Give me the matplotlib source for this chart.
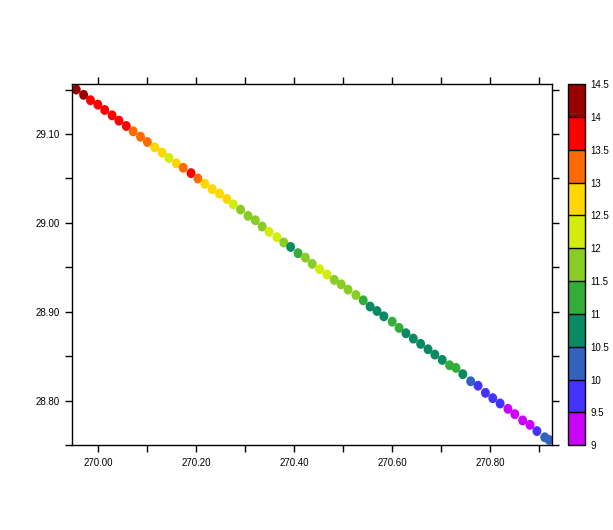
import numpy as np
import matplotlib
matplotlib.use("Agg")
import matplotlib.pyplot as plt
from matplotlib.colors import ListedColormap, BoundaryNorm

plt.rcParams['font.family'] = ['Liberation Sans', 'DejaVu Sans']

# track positions (longitude, latitude)
lon = [269.956, 269.971, 269.985, 270.000, 270.014, 270.029, 270.043, 270.058,
       270.072, 270.087, 270.101, 270.116, 270.131, 270.145, 270.160, 270.174,
       270.190, 270.204, 270.218, 270.233, 270.248, 270.263, 270.276, 270.291,
       270.306, 270.321, 270.335, 270.349, 270.365, 270.379, 270.393, 270.408,
       270.423, 270.437, 270.452, 270.467, 270.482, 270.496, 270.510, 270.526,
       270.541, 270.555, 270.569, 270.583, 270.600, 270.614, 270.628, 270.643,
       270.658, 270.673, 270.687, 270.702, 270.717, 270.730, 270.744, 270.760,
       270.775, 270.790, 270.805, 270.820, 270.836, 270.850, 270.866, 270.881,
       270.895, 270.911, 270.920]
lat = [29.150, 29.144, 29.138, 29.133, 29.127, 29.121, 29.115, 29.109,
       29.103, 29.097, 29.091, 29.085, 29.079, 29.073, 29.067, 29.062,
       29.056, 29.050, 29.044, 29.038, 29.033, 29.027, 29.021, 29.015,
       29.008, 29.003, 28.996, 28.990, 28.984, 28.978, 28.973, 28.966,
       28.961, 28.954, 28.948, 28.942, 28.936, 28.931, 28.925, 28.919,
       28.913, 28.906, 28.901, 28.895, 28.889, 28.882, 28.876, 28.870,
       28.864, 28.858, 28.852, 28.846, 28.840, 28.837, 28.830, 28.822,
       28.817, 28.809, 28.803, 28.797, 28.791, 28.785, 28.778, 28.773,
       28.766, 28.759, 28.756]
# value at each point (only the colour class is readable)
val = [14.2, 14.1, 13.9, 13.8, 13.7, 13.7, 13.6, 13.6,
       13.4, 13.3, 13.2, 12.9, 12.8, 12.4, 12.7, 13.1,
       13.6, 13.2, 12.9, 12.8, 12.7, 12.6, 12.4, 11.9,
       11.8, 11.8, 11.7, 12.2, 12.3, 11.8, 10.9, 11.3,
       11.7, 11.8, 12.2, 12.1, 11.9, 11.7, 11.6, 11.6,
       11.4, 10.9, 10.8, 10.8, 11.2, 11.1, 10.9, 10.8,
       10.7, 10.7, 10.6, 10.7, 11.1, 11.2, 10.8, 10.3,
       9.9, 9.8, 9.7, 9.6, 9.4, 9.3, 9.2, 9.3,
       9.6, 10.1, 10.2]

levels = [9, 9.5, 10, 10.5, 11, 11.5, 12, 12.5, 13, 13.5, 14, 14.5]
level_labels = ['9', '9.5', '10', '10.5', '11', '11.5', '12', '12.5', '13', '13.5', '14', '14.5']
colors = ['#cc00ff', '#4433ff', '#3062be', '#0a8a62', '#34ac3a', '#88cc24',
          '#d4ec0c', '#ffd700', '#ff6a00', '#ff0000', '#990000']

xticks_major = [270.0, 270.2, 270.4, 270.6, 270.8]
xticks_minor = [270.1, 270.3, 270.5, 270.7, 270.9]
yticks_major = [28.8, 28.9, 29.0, 29.1]
yticks_minor = [28.75, 28.85, 28.95, 29.05, 29.15]

cmap = ListedColormap(colors)
norm = BoundaryNorm(levels, cmap.N)

fig = plt.figure(figsize=(6.13, 5.30), dpi=100)
ax = fig.add_axes([0.1180, 0.1598, 0.7830, 0.6817])

# slightly tall dots, as in the original
dot = [(np.cos(t) * 0.9, np.sin(t)) for t in np.linspace(0, 2 * np.pi, 17)]
ax.scatter(lon, lat, c=val, cmap=cmap, norm=norm, s=52, marker=dot, linewidths=0)

ax.set_xlim(269.948, 270.9264)
ax.set_ylim(28.7502, 29.1562)

ax.set_xticks(xticks_major)
ax.set_xticklabels(['%.2f' % t for t in xticks_major])
ax.set_xticks(xticks_minor, minor=True)
ax.set_yticks(yticks_major)
ax.set_yticklabels(['%.2f' % t for t in yticks_major])
ax.set_yticks(yticks_minor, minor=True)

for which in ['major', 'minor']:
  ax.tick_params(which=which, direction='out', length=5.2, width=1, color='k',
                 top=True, right=True, labelsize=7, pad=4)

for sp in ax.spines.values():
  sp.set_linewidth(1)

# colour bar on the right
cax = fig.add_axes([0.9271, 0.1598, 0.0270, 0.6817])
cb = fig.colorbar(plt.cm.ScalarMappable(norm=norm, cmap=cmap), cax=cax,
                  ticks=levels, drawedges=True)
cb.ax.set_yticklabels(level_labels)
cb.ax.tick_params(length=0, labelsize=7, pad=4)
cb.outline.set_linewidth(1)
cb.dividers.set_linewidth(1)

fig.savefig('out.png', dpi=100)
